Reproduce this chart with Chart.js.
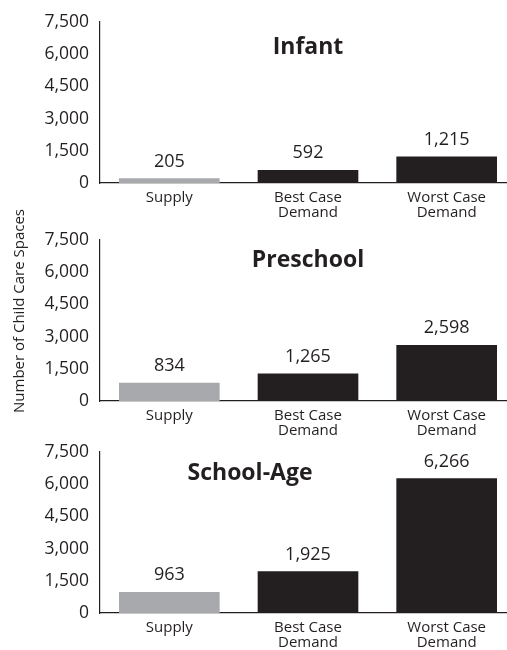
<!DOCTYPE html>
<html>
<head>
<meta charset="utf-8">
<script src="https://cdn.jsdelivr.net/npm/chart.js@4.4.0/dist/chart.umd.min.js"></script>
<style>
    html, body { margin: 0; padding: 0; background: #fff; }
    #wrap { position: relative; width: 507px; height: 650px; overflow: hidden; }
    .panel { position: absolute; left: 0; width: 516px; height: 218px; }
    #yTitle {
        position: absolute; left: 18px; top: 311px;
        transform: translate(-50%, -50%) rotate(-90deg);
        white-space: nowrap; font: 15px "Open Sans", sans-serif; color: #231f20;
    }
</style>
</head>
<body>
<div id="wrap">
    <div class="panel" style="top:0"><canvas id="infantChart" width="516" height="218"></canvas></div>
    <div class="panel" style="top:218px"><canvas id="preschoolChart" width="516" height="218"></canvas></div>
    <div class="panel" style="top:430px"><canvas id="schoolAgeChart" width="516" height="218"></canvas></div>
    <div id="yTitle">Number of Child Care Spaces</div>
</div>
<script>
// Data
const categories = ['Supply', ['Best Case', 'Demand'], ['Worst Case', 'Demand']];
const infantValues = [205, 592, 1215];
const preschoolValues = [834, 1265, 2598];
const schoolAgeValues = [963, 1925, 6266];
const yTicks = [0, 1500, 3000, 4500, 6000, 7500];

const INK = '#231f20';
const GREY = '#a7a9ac';
const FONT = '"Open Sans", sans-serif';

// Draws the panel title and the value labels above bars
const panelText = {
    id: 'panelText',
    afterDatasetsDraw(chart, args, opts) {
        const ctx = chart.ctx;
        ctx.save();
        ctx.fillStyle = INK;
        ctx.textAlign = 'center';
        ctx.textBaseline = 'middle';
        ctx.font = 'bold 23px ' + FONT;
        ctx.fillText(opts.title, opts.titleX, opts.titleY);

        ctx.font = '18px ' + FONT;
        const meta = chart.getDatasetMeta(0);
        meta.data.forEach((bar, i) => {
            const v = chart.data.datasets[0].data[i];
            ctx.fillText(v.toLocaleString('en-US'), bar.x, bar.y - 17);
        });
        ctx.restore();
    }
};

function makeChart(id, values, title, titleX, titleY) {
    const el = document.getElementById(id);
    return new Chart(el, {
        type: 'bar',
        data: {
            labels: categories,
            datasets: [{
                data: values,
                backgroundColor: [GREY, INK, INK],
                barThickness: 100
            }]
        },
        options: {
            responsive: false,
            animation: false,
            layout: { padding: { top: 22, left: 0, right: 0, bottom: 0 } },
            plugins: {
                legend: { display: false },
                tooltip: { enabled: false },
                panelText: { title, titleX, titleY }
            },
            scales: {
                x: {
                    grid: { display: false, drawTicks: false },
                    border: { display: true, color: INK, width: 1.2 },
                    ticks: { color: INK, font: { family: FONT, size: 15, lineHeight: 0.95 }, padding: 8, maxRotation: 0 },
                    afterFit(scale) { scale.height = 35; }
                },
                y: {
                    min: 0,
                    max: 7500,
                    afterBuildTicks(scale) { scale.ticks = yTicks.map(v => ({ value: v })); },
                    grid: { display: false, drawTicks: false },
                    border: { display: true, color: INK, width: 1.2 },
                    ticks: {
                        color: INK,
                        font: { family: FONT, size: 17.5 },
                        padding: 11,
                        callback: v => v.toLocaleString('en-US')
                    },
                    afterFit(scale) { scale.width = 100; }
                }
            }
        },
        plugins: [panelText]
    });
}

makeChart('infantChart', infantValues, 'Infant', 308, 47);
makeChart('preschoolChart', preschoolValues, 'Preschool', 308, 42);
makeChart('schoolAgeChart', schoolAgeValues, 'School-Age', 250, 43);
</script>
</body>
</html>
